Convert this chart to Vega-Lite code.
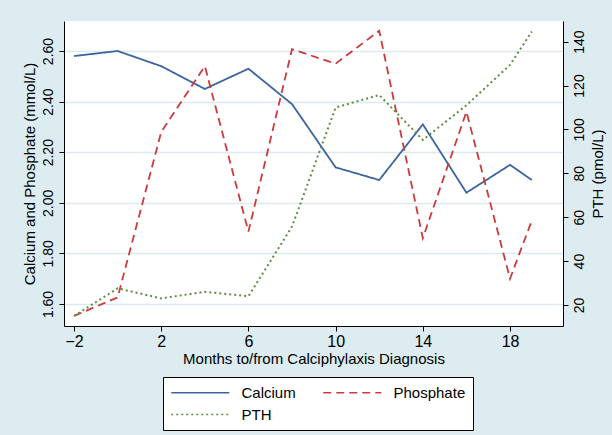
{
  "$schema": "https://vega.github.io/schema/vega-lite/v6.json",
  "autosize": {"type": "none"},
  "width": 499,
  "height": 305,
  "padding": {"left": 64, "top": 21, "right": 49, "bottom": 109},
  "background": "#dcecf0",
  "config": {
    "view": {"fill": "white", "stroke": null},
    "font": "Liberation Sans",
    "axis": {
      "domainColor": "black",
      "tickColor": "black",
      "labelColor": "black",
      "titleColor": "black",
      "titleFontWeight": "normal",
      "tickSize": 5,
      "domainWidth": 1,
      "tickWidth": 1
    }
  },
  "data": {
    "values": [
      {"month": -2, "series": "Calcium", "value": 2.58},
      {"month": 0, "series": "Calcium", "value": 2.60},
      {"month": 2, "series": "Calcium", "value": 2.54},
      {"month": 4, "series": "Calcium", "value": 2.45},
      {"month": 6, "series": "Calcium", "value": 2.53},
      {"month": 8, "series": "Calcium", "value": 2.39},
      {"month": 10, "series": "Calcium", "value": 2.14},
      {"month": 12, "series": "Calcium", "value": 2.09},
      {"month": 14, "series": "Calcium", "value": 2.31},
      {"month": 16, "series": "Calcium", "value": 2.04},
      {"month": 18, "series": "Calcium", "value": 2.15},
      {"month": 19, "series": "Calcium", "value": 2.09},
      {"month": -2, "series": "Phosphate", "value": 1.553},
      {"month": 0, "series": "Phosphate", "value": 1.626},
      {"month": 2, "series": "Phosphate", "value": 2.28},
      {"month": 4, "series": "Phosphate", "value": 2.54},
      {"month": 6, "series": "Phosphate", "value": 1.886},
      {"month": 8, "series": "Phosphate", "value": 2.607},
      {"month": 10, "series": "Phosphate", "value": 2.55},
      {"month": 12, "series": "Phosphate", "value": 2.68},
      {"month": 14, "series": "Phosphate", "value": 1.86},
      {"month": 16, "series": "Phosphate", "value": 2.36},
      {"month": 18, "series": "Phosphate", "value": 1.70},
      {"month": 19, "series": "Phosphate", "value": 1.93},
      {"month": -2, "series": "PTH", "value": 15},
      {"month": 0, "series": "PTH", "value": 27.6},
      {"month": 2, "series": "PTH", "value": 23},
      {"month": 4, "series": "PTH", "value": 26},
      {"month": 6, "series": "PTH", "value": 24},
      {"month": 8, "series": "PTH", "value": 55.7},
      {"month": 10, "series": "PTH", "value": 110},
      {"month": 12, "series": "PTH", "value": 115.7},
      {"month": 14, "series": "PTH", "value": 95.2},
      {"month": 16, "series": "PTH", "value": 111},
      {"month": 18, "series": "PTH", "value": 129.4},
      {"month": 19, "series": "PTH", "value": 144.6}
    ]
  },
  "encoding": {
    "x": {
      "field": "month",
      "type": "quantitative",
      "scale": {"domain": [-2.46, 20.43], "nice": false, "zero": false},
      "axis": {
        "values": [-2, 2, 6, 10, 14, 18],
        "title": "Months to/from Calciphylaxis Diagnosis",
        "grid": false,
        "labelFontSize": 16,
        "titleFontSize": 15,
        "labelPadding": 2,
        "titlePadding": 2
      }
    },
    "color": {
      "field": "series",
      "type": "nominal",
      "scale": {"domain": ["Calcium", "Phosphate", "PTH"], "range": ["#3b64a0", "#cc3b3b", "#5e8e3e"]},
      "legend": {
        "title": null,
        "orient": "none",
        "legendX": 99,
        "legendY": 356,
        "direction": "horizontal",
        "columns": 2,
        "columnPadding": 24,
        "rowPadding": 5,
        "symbolType": "M-1,0H7",
        "symbolSize": 210.25,
        "symbolStrokeWidth": 1.6,
        "labelFontSize": 15,
        "labelOffset": 54.5,
        "fillColor": "white",
        "strokeColor": "black",
        "padding": 7
      }
    },
    "strokeDash": {
      "field": "series",
      "type": "nominal",
      "scale": {"domain": ["Calcium", "Phosphate", "PTH"], "range": [[1, 0], [8, 5], [2, 3]]},
      "legend": null
    }
  },
  "layer": [
    {
      "transform": [{"filter": "datum.series !== 'PTH'"}],
      "mark": {"type": "line", "strokeWidth": 1.8},
      "encoding": {
        "y": {
          "field": "value",
          "type": "quantitative",
          "scale": {"domain": [1.513, 2.7186], "nice": false, "zero": false},
          "axis": {
            "orient": "left",
            "values": [1.6, 1.8, 2.0, 2.2, 2.4, 2.6],
            "format": ".2f",
            "title": "Calcium and Phosphate (mmol/L)",
            "labelAngle": -90,
            "labelFontSize": 14,
            "titleFontSize": 15,
            "labelPadding": 4,
            "titlePadding": 4,
            "grid": true,
            "gridColor": "#dbeaf0",
            "gridWidth": 1.5
          }
        }
      }
    },
    {
      "transform": [{"filter": "datum.series === 'PTH'"}],
      "mark": {"type": "line", "strokeWidth": 2},
      "encoding": {
        "y": {
          "field": "value",
          "type": "quantitative",
          "scale": {"domain": [10.43, 149.4], "nice": false, "zero": false},
          "axis": {
            "orient": "right",
            "values": [20, 40, 60, 80, 100, 120, 140],
            "title": "PTH (pmol/L)",
            "titleAngle": -90,
            "titleBaseline": "top",
            "labelAngle": -90,
            "labelFontSize": 14,
            "titleFontSize": 15,
            "labelPadding": 4,
            "titlePadding": 4,
            "grid": false
          }
        }
      }
    }
  ],
  "resolve": {"scale": {"y": "independent"}}
}
